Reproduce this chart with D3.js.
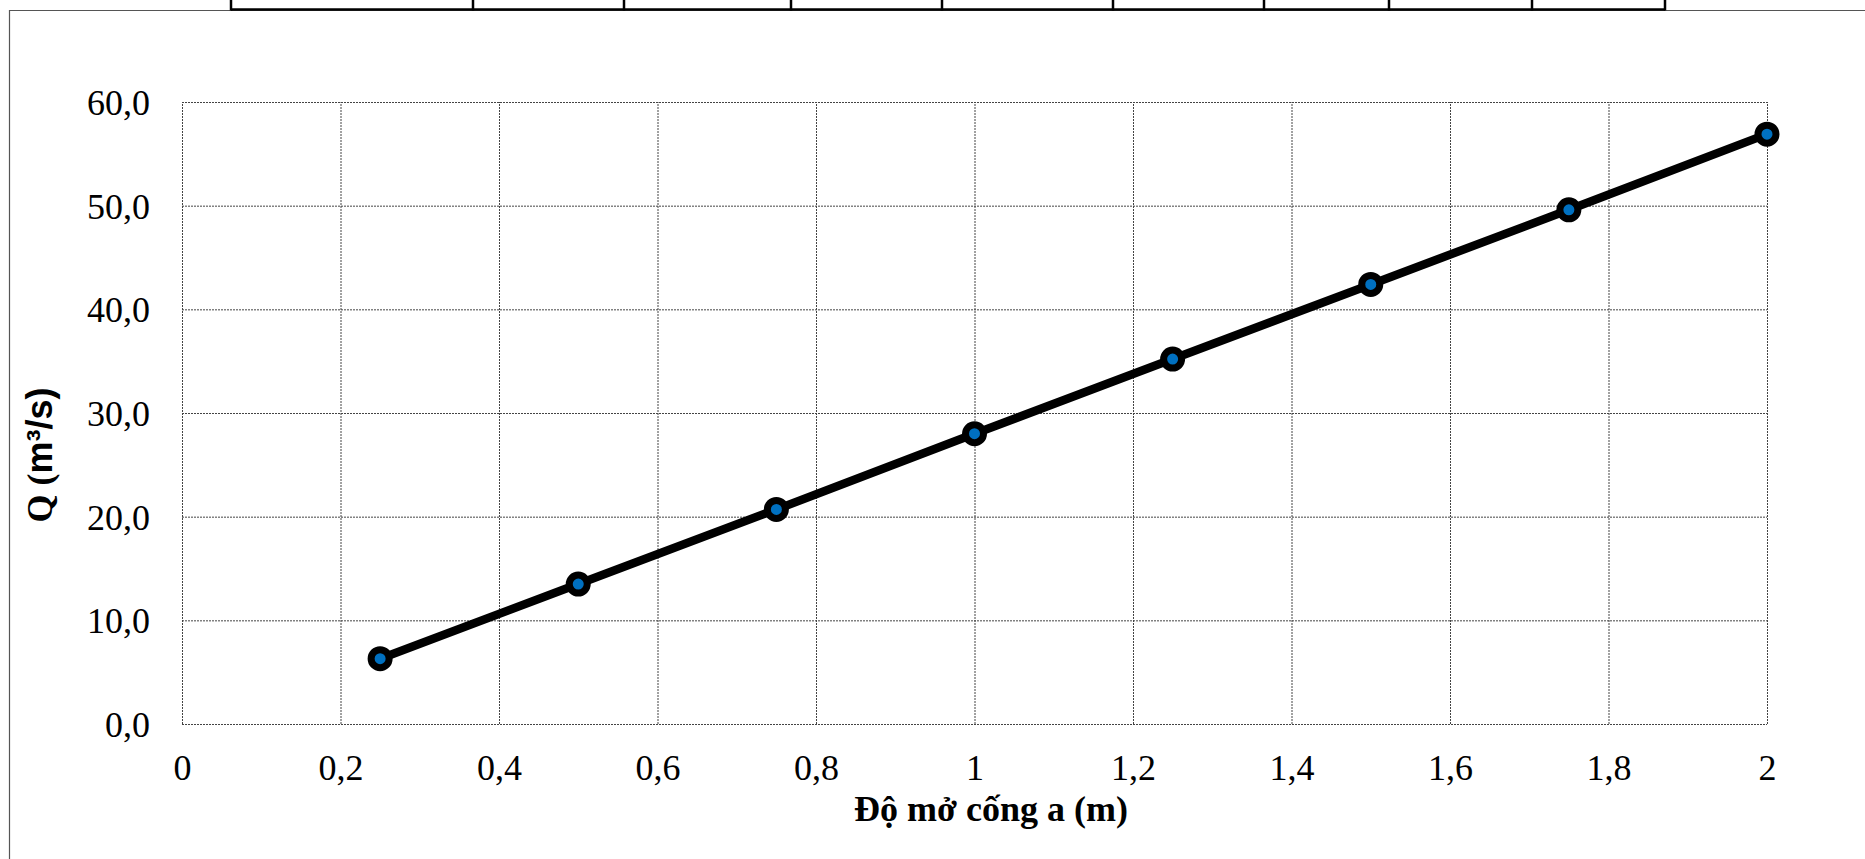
<!DOCTYPE html>
<html>
<head>
<meta charset="utf-8">
<script src="https://cdn.jsdelivr.net/npm/d3@7"></script>
<style>
  body { margin: 0; background: #fff; }
  text { font-family: "Liberation Serif", "Times New Roman", serif; }
</style>
</head>
<body>
<svg id="chart"></svg>
<script>
// data
var openings = [0.25, 0.5, 0.75, 1, 1.25, 1.5, 1.75, 2];
var discharge = [6.3, 13.5, 20.7, 28.0, 35.2, 42.4, 49.6, 56.9];
var xTicks = [0, 0.2, 0.4, 0.6, 0.8, 1, 1.2, 1.4, 1.6, 1.8, 2];
var yTicks = [0, 10, 20, 30, 40, 50, 60];

// edges of the cropped table above the chart
var tableCols = [231, 473, 624, 791, 942, 1113, 1264, 1389, 1532, 1665];

var W = 1865, H = 859;
var margin = {top: 102, right: 98, bottom: 135, left: 182},
    width = W - margin.left - margin.right,
    height = H - margin.top - margin.bottom;

var svg = d3.select("#chart")
    .attr("width", W)
    .attr("height", H);

svg.append("rect")
    .attr("width", W).attr("height", H)
    .attr("fill", "#fff");

// chart frame (only left and top visible in the crop)
svg.append("path")
    .attr("d", "M9.5," + H + "V10.5H" + W)
    .attr("fill", "none")
    .attr("stroke", "#555")
    .attr("stroke-width", 1.2);

// table remnants
svg.append("line")
    .attr("x1", tableCols[0]).attr("x2", tableCols[tableCols.length - 1])
    .attr("y1", 9.5).attr("y2", 9.5)
    .attr("stroke", "#000").attr("stroke-width", 2.5);
svg.selectAll(".tcol")
    .data(tableCols)
    .enter().append("line")
    .attr("class", "tcol")
    .attr("x1", function(d) { return d; }).attr("x2", function(d) { return d; })
    .attr("y1", 0).attr("y2", 10.5)
    .attr("stroke", "#000").attr("stroke-width", 2.5);

var g = svg.append("g")
    .attr("transform", "translate(" + margin.left + "," + margin.top + ")");

var locale = d3.formatLocale({decimal: ",", thousands: ".", grouping: [3], currency: ["", ""]});
var fmtX = locale.format("~g");
var fmtY = locale.format(".1f");

var x = d3.scaleLinear().domain([0, 2]).range([0, width]);
var y = d3.scaleLinear().domain([0, 60]).range([height, 0]);

// x grid + labels
var xAxis = g.append("g")
    .attr("transform", "translate(0," + height + ")")
    .call(d3.axisBottom(x).tickValues(xTicks).tickSize(-height).tickFormat(fmtX));
// y grid + labels
var yAxis = g.append("g")
    .call(d3.axisLeft(y).tickValues(yTicks).tickSize(-width).tickFormat(fmtY));

[xAxis, yAxis].forEach(function(a) {
  a.select(".domain").remove();
  a.selectAll(".tick line")
    .attr("stroke", "#444")
    .attr("stroke-width", 1)
    .attr("stroke-dasharray", "2,1");
  a.selectAll(".tick text")
    .attr("fill", "#000")
    .style("font-family", "'Liberation Serif', 'Times New Roman', serif")
    .style("font-size", "36px");
});
xAxis.selectAll(".tick text").attr("y", 56).attr("dy", 0);
yAxis.selectAll(".tick text").attr("x", -32).attr("dy", "0.35em");

// series
var points = openings.map(function(d, i) { return [d, discharge[i]]; });

g.append("path")
    .datum(points)
    .attr("fill", "none")
    .attr("stroke", "#000")
    .attr("stroke-width", 8.5)
    .attr("stroke-linejoin", "round")
    .attr("d", d3.line()
      .x(function(d) { return x(d[0]); })
      .y(function(d) { return y(d[1]); }));

g.selectAll(".dot")
    .data(points)
    .enter().append("circle")
    .attr("class", "dot")
    .attr("cx", function(d) { return x(d[0]); })
    .attr("cy", function(d) { return y(d[1]); })
    .attr("r", 9)
    .attr("fill", "#0070C0")
    .attr("stroke", "#000")
    .attr("stroke-width", 7);

// axis titles
svg.append("text")
    .attr("x", 991)
    .attr("y", 821)
    .attr("text-anchor", "middle")
    .style("font-size", "36px")
    .style("font-weight", "bold")
    .text("Độ mở cống a (m)");

var yTitle = svg.append("text")
    .attr("transform", "translate(52,455) rotate(-90)")
    .attr("text-anchor", "middle")
    .style("font-size", "36px")
    .style("font-weight", "bold");
yTitle.append("tspan").text("Q (");
yTitle.append("tspan")
    .style("font-family", "'Liberation Sans', Arial, sans-serif")
    .text("m³/s)");
</script>
</body>
</html>
